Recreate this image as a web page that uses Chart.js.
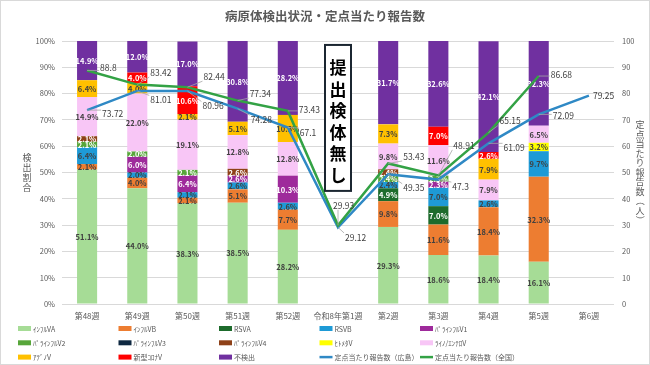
<!DOCTYPE html>
<html><head><meta charset="utf-8">
<script src="https://cdn.jsdelivr.net/npm/chart.js@4.4.1/dist/chart.umd.min.js"></script>
<style>html,body{margin:0;padding:0;background:#fff;}#wrap{width:650px;height:365px;position:relative;}</style>
</head><body><div id="wrap"><canvas id="c" width="650" height="365"></canvas></div>
<script>
// ---- data ----
const categories = ['第48週','第49週','第50週','第51週','第52週','令和8年第1週','第2週','第3週','第4週','第5週','第6週'];
const fluA   = [51.1,44.0,38.3,38.5,28.2,null,29.3,18.6,18.4,16.1,null];
const fluB   = [2.1,4.0,2.1,5.1,7.7,null,9.8,11.6,18.4,32.3,null];
const rsvA   = [null,null,null,null,null,null,4.9,7.0,null,null,null];
const rsvB   = [6.4,2.0,2.1,2.6,2.6,null,2.4,7.0,2.6,9.7,null];
const para1  = [null,6.0,6.4,2.6,10.3,null,null,2.3,null,null,null];
const para2  = [2.1,2.0,2.1,null,null,null,2.4,2.3,null,null,null];
const para3  = [null,null,null,null,null,null,null,null,null,null,null];
const para4  = [2.1,null,null,2.6,null,null,2.4,null,null,null,null];
const hmpv   = [null,null,null,null,null,null,null,null,null,3.2,null];
const rhino  = [14.9,22.0,19.1,12.8,12.8,null,9.8,11.6,7.9,6.5,null];
const adeno  = [6.4,4.0,2.1,5.1,10.3,null,7.3,null,7.9,null,null];
const covid  = [null,4.0,10.6,null,null,null,null,7.0,2.6,null,null];
const notDetected = [14.9,12.0,17.0,30.8,28.2,null,31.7,32.6,42.1,32.3,null];
const perSentinelHiroshima = [73.72,81.01,80.96,74.28,67.1,29.12,49.35,47.3,61.09,72.09,79.25];
const perSentinelNational  = [88.8,83.42,82.44,77.34,73.43,29.93,53.43,48.91,65.15,86.68,null];
const seriesNames = ['ｲﾝﾌﾙVA','ｲﾝﾌﾙVB','RSVA','RSVB','ﾊﾟﾗｲﾝﾌﾙV1','ﾊﾟﾗｲﾝﾌﾙV2','ﾊﾟﾗｲﾝﾌﾙV3','ﾊﾟﾗｲﾝﾌﾙV4','ﾋﾄﾒﾀV','ﾗｲﾉ/ｴﾝﾃﾛV','ｱﾃﾞﾉV','新型ｺﾛﾅV','不検出'];
const lineNames = ['定点当たり報告数（広島）','定点当たり報告数（全国）'];
const titleText = '病原体検出状況・定点当たり報告数';
const leftAxisTitle = '検出割合';
const rightAxisTitle = '定点当たり報告数（人）';
const noSampleNote = '提出検体無し';
const noSampleIndex = 5;

// ---- styles ----
const FONT = '"Noto Sans CJK JP","Noto Sans",sans-serif';
const barColors = ['#A6DC96','#ED7D31','#1D6B2C','#1E9AD6','#9E2A9B','#57A63A','#0E2841','#8E4118','#FFFF00','#F8C6F6','#FFC000','#FF0000','#7030A0'];
const barLabelColors = ['#404040','#404040','#fff','#404040','#fff','#fff','#fff','#fff','#404040','#404040','#404040','#fff','#fff'];
const lineColors = ['#2F89C5','#33A245'];
// label offsets (dx, dy) relative to the point, for the value labels of the lines
const labelOffsetsHiroshima = [[15,4],[13,9],[15,15],[13,11],[12,5],[7,10],[15,14],[14,7],[15,4],[14,1.5],[4,0]];
const labelOffsetsNational  = [[13,-3],[13,-12],[16,-10.5],[12,-7],[11,-1],[-5,-20],[15,-7],[15,-30],[11,-12],[12,-1],null];

const barSeries = [fluA,fluB,rsvA,rsvB,para1,para2,para3,para4,hmpv,rhino,adeno,covid,notDetected];
const datasets = barSeries.map((d,i)=>({
  type:'bar', label:seriesNames[i], data:d, backgroundColor:barColors[i],
  yAxisID:'y', stack:'s', order:0, barPercentage:0.5, categoryPercentage:0.8,
  labelColor:barLabelColors[i]
}));
datasets.push({type:'line',label:lineNames[0],data:perSentinelHiroshima,borderColor:lineColors[0],backgroundColor:lineColors[0],
  borderWidth:2.5,pointRadius:0,tension:0,yAxisID:'y1',order:-1,labelOffsets:labelOffsetsHiroshima});
datasets.push({type:'line',label:lineNames[1],data:perSentinelNational,borderColor:lineColors[1],backgroundColor:lineColors[1],
  borderWidth:2.5,pointRadius:0,tension:0,yAxisID:'y1',order:-2,labelOffsets:labelOffsetsNational});

function drawVertical(ctx, text, x, cy, pitch){
  const chars = Array.from(text);
  const start = cy - (chars.length-1)*pitch/2;
  chars.forEach((ch,i)=>{
    ctx.save(); ctx.translate(x, start+i*pitch);
    if ('（）'.includes(ch)) ctx.rotate(Math.PI/2);
    ctx.fillText(ch,0,0); ctx.restore();
  });
}

let barLabelsDone = false;
function drawBarLabels(chart){
  const ctx = chart.ctx;
  ctx.save();
  ctx.font = 'bold 7.5px ' + FONT;
  ctx.textAlign='center'; ctx.textBaseline='middle';
  chart.data.datasets.forEach((ds,di)=>{
    if (ds.type!=='bar') return;
    const meta = chart.getDatasetMeta(di);
    meta.data.forEach((el,i)=>{
      const v = ds.data[i];
      if (v==null || v<=0) return;
      ctx.fillStyle = ds.labelColor;
      ctx.fillText(v.toFixed(1)+'%', el.x, (el.y+el.base)/2 + 0.5);
    });
  });
  ctx.restore();
}

const customPlugin = {
  id:'custom',
  beforeDraw(chart){
    const ctx = chart.ctx; ctx.save();
    ctx.fillStyle='#fff'; ctx.fillRect(0,0,chart.width,chart.height);
    ctx.restore(); barLabelsDone=false;
  },
  beforeDatasetDraw(chart,args){
    if (!barLabelsDone && args.meta.type==='line'){ drawBarLabels(chart); barLabelsDone=true; }
  },
  afterDatasetsDraw(chart){
    if (!barLabelsDone){ drawBarLabels(chart); barLabelsDone=true; }
    const ctx = chart.ctx;
    ctx.save();
    ctx.font = '8.5px ' + FONT;
    ctx.textBaseline='middle'; ctx.textAlign='left';
    chart.data.datasets.forEach((ds,di)=>{
      if (ds.type!=='line') return;
      const meta = chart.getDatasetMeta(di);
      meta.data.forEach((pt,i)=>{
        const v = ds.data[i]; const off = ds.labelOffsets[i];
        if (v==null || !off) return;
        const txt = String(v);
        const w = ctx.measureText(txt).width, h = 9;
        const lx = pt.x+off[0], cy = pt.y+off[1];
        const cx = Math.min(Math.max(pt.x, lx-1), lx+w+1);
        const cyy = Math.min(Math.max(pt.y, cy-h/2), cy+h/2);
        const dist = Math.hypot(cx-pt.x, cyy-pt.y);
        if (dist>5){
          ctx.strokeStyle='#A6A6A6'; ctx.lineWidth=0.8;
          ctx.beginPath(); ctx.moveTo(pt.x,pt.y); ctx.lineTo(cx,cyy); ctx.stroke();
        }
        ctx.fillStyle='#404040';
        ctx.fillText(txt, lx, cy);
      });
    });
    ctx.restore();
  },
  afterDraw(chart){
    const ctx = chart.ctx, ca = chart.chartArea;
    const xs = chart.scales.x, ys = chart.scales.y;
    ctx.save();
    // outer border
    ctx.strokeStyle='#D9D9D9'; ctx.lineWidth=1;
    ctx.strokeRect(0.5,0.5,chart.width-1,chart.height-1);
    // axis titles
    ctx.fillStyle='#595959'; ctx.font='9px '+FONT;
    ctx.textAlign='center'; ctx.textBaseline='middle';
    const midY = (ca.top+ca.bottom)/2;
    drawVertical(ctx,leftAxisTitle,27,midY,10);
    drawVertical(ctx,rightAxisTitle,640,midY,9.5);
    // no-sample note box
    const bx = xs.getPixelForValue(noSampleIndex);
    const top = ys.getPixelForValue(98.5), bot = ys.getPixelForValue(43);
    ctx.fillStyle='#fff'; ctx.fillRect(bx-13,top,26,bot-top);
    ctx.strokeStyle='#1B2631'; ctx.lineWidth=2; ctx.strokeRect(bx-13,top,26,bot-top);
    ctx.fillStyle='#000'; ctx.font='bold 17px '+FONT;
    const chars = Array.from(noSampleNote);
    chars.forEach((ch,i)=>ctx.fillText(ch,bx,top+23+i*21.5));
    // legend
    ctx.font='7px '+FONT; ctx.textAlign='left';
    chart.data.datasets.forEach((ds,i)=>{
      const col=i%5,row=Math.floor(i/5);
      const x=18+col*100.5, y=328.5+row*14.3;
      if (ds.type==='bar'){ ctx.fillStyle=ds.backgroundColor; ctx.fillRect(x,y-2.5,13,5); }
      else { ctx.strokeStyle=ds.borderColor; ctx.lineWidth=2.5; ctx.beginPath(); ctx.moveTo(x,y); ctx.lineTo(x+13,y); ctx.stroke(); }
      ctx.fillStyle='#595959'; ctx.fillText(ds.label,x+15,y+0.5);
    });
    ctx.restore();
  }
};

new Chart(document.getElementById('c'),{
  data:{labels:categories,datasets},
  plugins:[customPlugin],
  options:{
    responsive:false, animation:false, devicePixelRatio:1,
    layout:{padding:0},
    plugins:{
      legend:{display:false}, tooltip:{enabled:false},
      title:{display:true,text:titleText,color:'#595959',font:{family:FONT,size:12.5,weight:'bold',lineHeight:1.2},padding:{top:8.5,bottom:17.5}}
    },
    scales:{
      x:{stacked:true,grid:{display:false,drawTicks:false},border:{display:false},
         ticks:{color:'#595959',font:{family:FONT,size:8},padding:7,maxRotation:0,autoSkip:false},
         afterFit(s){s.height=61;}},
      y:{stacked:true,position:'left',min:0,max:100,
         ticks:{stepSize:10,color:'#595959',font:{family:FONT,size:7.5},padding:7,callback:v=>v+'%'},
         grid:{color:'#D9D9D9',drawTicks:false},border:{display:false},
         afterFit(s){s.width=62;}},
      y1:{stacked:false,position:'right',min:0,max:100,
         ticks:{stepSize:10,color:'#595959',font:{family:FONT,size:7.5},padding:8},
         grid:{drawOnChartArea:false,drawTicks:false},border:{display:false},
         afterFit(s){s.width=36;}}
    }
  }
});
</script></body></html>
